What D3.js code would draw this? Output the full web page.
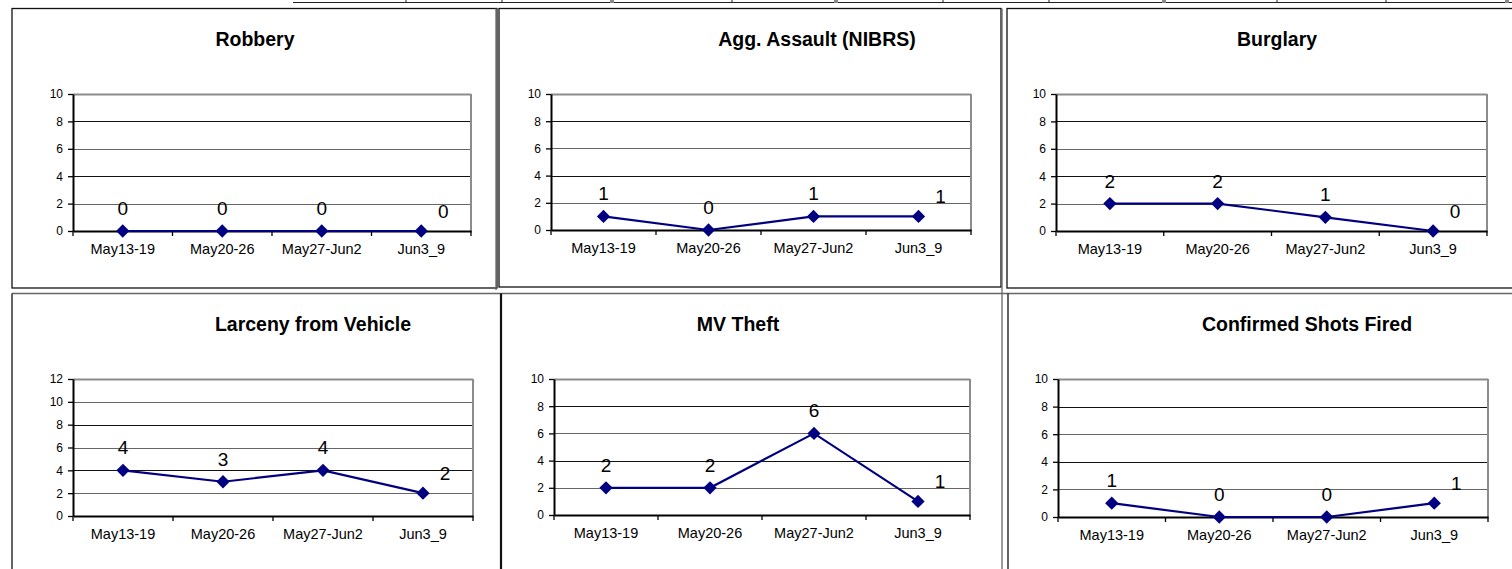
<!DOCTYPE html>
<html>
<head>
<meta charset="utf-8">
<script src="https://cdn.jsdelivr.net/npm/d3@7"></script>
<style>
  html, body { margin: 0; padding: 0; background: #fff; }
  svg { display: block; font-family: "Liberation Sans", Arial, sans-serif; }
</style>
</head>
<body>
<svg id="chart" width="1512" height="569"></svg>
<script>
// Weekly crime counts
const categories = ["May13-19", "May20-26", "May27-Jun2", "Jun3_9"];
const robbery = [0, 0, 0, 0];
const aggAssault = [1, 0, 1, 1];
const burglary = [2, 2, 1, 0];
const larcenyFromVehicle = [4, 3, 4, 2];
const mvTheft = [2, 2, 6, 1];
const shotsFired = [1, 0, 0, 1];
const ticks10 = [0, 2, 4, 6, 8, 10];
const ticks12 = [0, 2, 4, 6, 8, 10, 12];

// Panel layout: plot box and title position
const panels = [
  { title: "Robbery", values: robbery, ticks: ticks10, x0: 73, x1: 471, y0: 94, y1: 231, tx: 255, ty: 46 },
  { title: "Agg. Assault (NIBRS)", values: aggAssault, ticks: ticks10, x0: 551, x1: 971, y0: 94, y1: 230, tx: 817, ty: 46 },
  { title: "Burglary", values: burglary, ticks: ticks10, x0: 1056, x1: 1487, y0: 94, y1: 231, tx: 1277, ty: 46 },
  { title: "Larceny from Vehicle", values: larcenyFromVehicle, ticks: ticks12, x0: 73, x1: 473, y0: 379, y1: 516, tx: 313, ty: 331 },
  { title: "MV Theft", values: mvTheft, ticks: ticks10, x0: 554, x1: 970, y0: 379, y1: 515, tx: 738, ty: 331 },
  { title: "Confirmed Shots Fired", values: shotsFired, ticks: ticks10, x0: 1058, x1: 1488, y0: 379, y1: 517, tx: 1307, ty: 331 }
];

const svg = d3.select("#chart");

// Frame lines around the panels
const frame = svg.append("g").attr("fill", "none");
const line = (x1, y1, x2, y2, color, w) =>
  frame.append("line").attr("x1", x1).attr("y1", y1).attr("x2", x2).attr("y2", y2)
    .attr("stroke", color).attr("stroke-width", w);

// table edge along the top
line(293, 2.5, 1512, 2.5, "#222", 1.2);
[406, 502, 732, 943, 1049, 1277, 1386].forEach(x => line(x, 0, x, 2.5, "#222", 1));
[612, 836, 1164, 1507].forEach(x =>
  frame.append("rect").attr("x", x - 2).attr("y", 0).attr("width", 4).attr("height", 3).attr("fill", "#888"));

// top row
frame.append("rect").attr("x", 12).attr("y", 8.5).attr("width", 485).attr("height", 279.5).attr("stroke", "#111").attr("stroke-width", 1.3);
line(496, 8.5, 496, 290, "#666", 1.3);
frame.append("rect").attr("x", 499).attr("y", 8.5).attr("width", 502).attr("height", 278.5).attr("stroke", "#111").attr("stroke-width", 1.3);
line(1002, 8.5, 1002, 569, "#666", 1.3);
frame.append("rect").attr("x", 1007).attr("y", 8.5).attr("width", 520).attr("height", 279.5).attr("stroke", "#111").attr("stroke-width", 1.3);

// bottom row
line(12, 293.5, 1512, 293.5, "#666", 1.3);
line(12, 293.5, 12, 569, "#111", 1.3);
line(501, 293.5, 501, 569, "#111", 2.2);
line(1008, 293.5, 1008, 569, "#111", 1.3);

panels.forEach(p => {
  const g = svg.append("g");
  const x = d3.scaleBand().domain(categories).range([p.x0, p.x1]);
  const y = d3.scaleLinear().domain([0, d3.max(p.ticks)]).range([p.y1, p.y0]);

  // title
  g.append("text").attr("x", p.tx).attr("y", p.ty).attr("text-anchor", "middle")
    .attr("font-weight", "bold").attr("font-size", 19.5).attr("fill", "#000").text(p.title);

  // gridlines
  g.selectAll("line.grid").data(p.ticks.filter(t => t > 0)).join("line")
    .attr("class", "grid")
    .attr("x1", p.x0).attr("x2", p.x1)
    .attr("y1", d => Math.round(y(d)) + 0.5).attr("y2", d => Math.round(y(d)) + 0.5)
    .attr("stroke", d => d === d3.max(p.ticks) ? "#8c8c8c" : (d % 4 === 0 ? "#111" : "#666"))
    .attr("stroke-width", d => d === d3.max(p.ticks) ? 2 : 1.2);

  // right edge of plot box
  g.append("line").attr("x1", p.x1).attr("x2", p.x1).attr("y1", p.y0).attr("y2", p.y1)
    .attr("stroke", "#8c8c8c").attr("stroke-width", 2);

  // y axis
  const yAxis = g.append("g").attr("transform", `translate(${p.x0},0)`)
    .call(d3.axisLeft(y).tickValues(p.ticks).tickSize(5).tickPadding(5).tickSizeOuter(0));
  yAxis.select(".domain").attr("stroke", "#000").attr("stroke-width", 2);
  yAxis.selectAll(".tick line").attr("stroke", "#000").attr("stroke-width", 1.3);
  yAxis.selectAll(".tick text").attr("font-size", 12).attr("fill", "#000")
    .attr("font-family", "'Liberation Sans', Arial, sans-serif");

  // x axis with ticks at category boundaries
  const xAxis = g.append("g").attr("transform", `translate(0,${p.y1})`)
    .call(d3.axisBottom(x).tickSize(0).tickPadding(13));
  xAxis.select(".domain").attr("stroke", "#000").attr("stroke-width", 2);
  xAxis.selectAll(".tick text").attr("font-size", 14.5).attr("fill", "#000")
    .attr("font-family", "'Liberation Sans', Arial, sans-serif");
  g.selectAll("line.xtick").data(categories).join("line")
    .attr("class", "xtick")
    .attr("x1", d => x(d) + x.bandwidth()).attr("x2", d => x(d) + x.bandwidth())
    .attr("y1", p.y1).attr("y2", p.y1 + 5)
    .attr("stroke", "#000").attr("stroke-width", 1.3);
  g.append("line").attr("x1", p.x0).attr("x2", p.x0).attr("y1", p.y1).attr("y2", p.y1 + 5)
    .attr("stroke", "#000").attr("stroke-width", 1.3);

  // series line
  const pts = categories.map((c, i) => ({ c, v: p.values[i], i }));
  const cx = d => x(d.c) + x.bandwidth() / 2;
  g.append("path").datum(pts)
    .attr("d", d3.line().x(cx).y(d => y(d.v)))
    .attr("fill", "none").attr("stroke", "#000080").attr("stroke-width", 2.2);

  // diamond markers
  g.selectAll("path.marker").data(pts).join("path")
    .attr("class", "marker")
    .attr("d", d3.symbol(d3.symbolSquare, 88))
    .attr("transform", d => `translate(${cx(d)},${y(d.v)}) rotate(45)`)
    .attr("fill", "#000080");

  // value labels
  g.selectAll("text.val").data(pts).join("text")
    .attr("class", "val")
    .attr("x", d => cx(d) + (d.i === pts.length - 1 ? 22 : 0))
    .attr("y", d => y(d.v) - (d.i === pts.length - 1 ? 13 : 16))
    .attr("text-anchor", "middle")
    .attr("font-size", 19).attr("fill", "#000")
    .text(d => d.v);
});
</script>
</body>
</html>
